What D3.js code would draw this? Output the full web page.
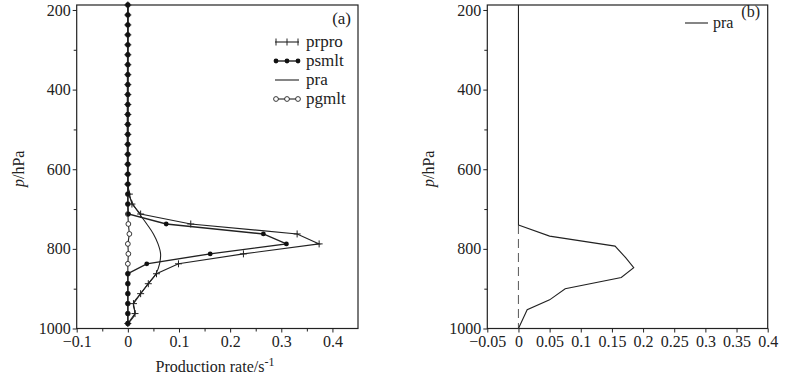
<!DOCTYPE html>
<html>
<head>
<meta charset="utf-8">
<script src="https://cdn.jsdelivr.net/npm/d3@7"></script>
<style>
  body { margin: 0; background: #fff; }
  svg { display: block; font-family: "Liberation Serif", "DejaVu Serif", serif; }
  .axis { font-family: "Liberation Serif", "DejaVu Serif", serif; }
  .axis text { font-size: 16px; fill: #222; }
  .axis path, .axis line { stroke: #222; }
</style>
</head>
<body>
<div id="chart"></div>
<script>
/* two vertical profile panels: (a) process rates, (b) pra */

const width = 799, height = 376;

// model levels (hPa)
const levels = [987.5, 962.5, 937.5, 912.5, 887.5, 862.5, 837.5, 812.5, 787.5, 762.5, 737.5, 712.5, 687.5,
  662.5, 637.5, 612.5, 587.5, 562.5, 537.5, 512.5, 487.5, 462.5, 437.5, 412.5, 387.5, 362.5, 337.5,
  312.5, 287.5, 262.5, 237.5, 212.5, 187.5];

// panel (a) series, same order as levels
const prpro = [0, 0.014, 0.011, 0.025, 0.040, 0.056, 0.099, 0.226, 0.374, 0.331, 0.123, 0.025, 0.008,
  0.003, 0, 0, 0, 0, 0, 0, 0, 0, 0, 0, 0, 0, 0, 0, 0, 0, 0, 0, 0];
const psmlt = [0, 0, 0, 0, 0, 0, 0.037, 0.161, 0.310, 0.265, 0.075, 0.001, 0,
  0, 0, 0, 0, 0, 0, 0, 0, 0, 0, 0, 0, 0, 0, 0, 0, 0, 0, 0, 0];
const pgmlt = [0, 0, 0, 0, 0, 0, 0, 0.001, 0, 0.003, 0.001, 0, 0,
  0, 0, 0, 0, 0, 0, 0, 0, 0, 0, 0, 0, 0, 0, 0, 0, 0, 0, 0, 0];
const praLevelsA = [987.5, 962.5, 937.5, 912.5, 887.5, 862.5, 837.5, 812.5, 787.5, 762.5, 737.5, 712.5, 687.5, 662.5, 637.5, 187.5];
const praA = [0, 0.014, 0.011, 0.025, 0.040, 0.055, 0.062, 0.064, 0.059, 0.050, 0.037, 0.023, 0.010, 0.002, 0, 0];

// panel (b) pra
const praLevelsB = [1000, 953, 928, 900, 872, 847, 822, 793, 768, 740];
const praB = [0, 0.014, 0.05, 0.075, 0.165, 0.185, 0.172, 0.155, 0.05, 0];

// ticks
const yTicks = [200, 400, 600, 800, 1000];
const yMinor = [300, 500, 700, 900];
const xTicksA = [-0.1, 0, 0.1, 0.2, 0.3, 0.4];
const xMinorA = [-0.05, 0.05, 0.15, 0.25, 0.35];
const xTicksB = [-0.05, 0, 0.05, 0.1, 0.15, 0.2, 0.25, 0.3, 0.35, 0.4];

const ink = "#222";

const svg = d3.select("#chart")
  .append("svg")
  .attr("width", width)
  .attr("height", height)
  .attr("viewBox", [0, 0, width, height]);

const plotTop = 5, plotBottom = 328.5;

let y = d3.scaleLinear().domain([187.5, 1000]).range([plotTop, plotBottom]);
let xa = d3.scaleLinear().domain([-0.1, 0.45]).range([76.7, 358]);
let xb = d3.scaleLinear().domain([-0.05, 0.4]).range([487.3, 767.7]);

const fmt = d => d === 0 ? "0" : (d < 0 ? "\u2212" : "") + Math.abs(d);

function frame(x) {
  const [x0, x1] = x.range();
  svg.append("rect")
    .attr("x", x0).attr("y", plotTop)
    .attr("width", x1 - x0).attr("height", plotBottom - plotTop)
    .attr("fill", "none").attr("stroke", ink).attr("stroke-width", 1.2);

  svg.append("g").attr("class", "axis")
    .attr("transform", `translate(${x0},0)`)
    .call(d3.axisLeft(y).tickValues(yTicks).tickFormat(d => d).tickSize(4).tickPadding(2).tickSizeOuter(0))
    .call(g => g.select(".domain").remove());
  svg.append("g").attr("class", "axis")
    .attr("transform", `translate(${x0},0)`)
    .call(d3.axisLeft(y).tickValues(yMinor).tickSize(3).tickFormat(""))
    .call(g => g.select(".domain").remove());

  svg.append("text")
    .attr("transform", `translate(${x0 - 53},${(plotTop + plotBottom) / 2 + 2}) rotate(-90)`)
    .attr("text-anchor", "middle")
    .style("font-size", "16px").attr("fill", ink)
    .html('<tspan font-style="italic">p</tspan>/hPa');
}

frame(xa);
frame(xb);

// x axes
svg.append("g").attr("class", "axis")
  .attr("transform", `translate(0,${plotBottom})`)
  .call(d3.axisBottom(xa).tickValues(xTicksA).tickFormat(fmt).tickSize(4).tickPadding(3))
  .call(g => g.select(".domain").remove());
svg.append("g").attr("class", "axis")
  .attr("transform", `translate(0,${plotBottom})`)
  .call(d3.axisBottom(xa).tickValues(xMinorA).tickFormat("").tickSize(3))
  .call(g => g.select(".domain").remove());
svg.append("g").attr("class", "axis")
  .attr("transform", `translate(0,${plotBottom})`)
  .call(d3.axisBottom(xb).tickValues(xTicksB).tickFormat(fmt).tickSize(4).tickPadding(3))
  .call(g => g.select(".domain").remove());

svg.append("text")
  .attr("x", 215).attr("y", 372)
  .attr("text-anchor", "middle")
  .style("font-size", "16px").attr("fill", ink)
  .html('Production rate/s<tspan dy="-6" font-size="12">-1</tspan>');

// panel (a) lines
const lineA = (vals, lv) => d3.line()
  .x((d, i) => xa(vals[i]))
  .y((d, i) => y(lv[i]))(lv);

const g = svg.append("g").attr("fill", "none").attr("stroke", ink).attr("stroke-width", 1.1);

// pgmlt
g.append("path").attr("d", lineA(pgmlt, levels));
svg.append("g").selectAll("circle")
  .data(levels)
  .join("circle")
  .attr("cx", (d, i) => xa(pgmlt[i]))
  .attr("cy", d => y(d))
  .attr("r", 2.4)
  .attr("fill", "#fff").attr("stroke", ink).attr("stroke-width", 0.9);

// pra (smooth)
const gp = svg.append("g").attr("fill", "none").attr("stroke", ink).attr("stroke-width", 1.1);
gp.append("path")
  .attr("d", d3.line()
    .curve(d3.curveCatmullRom)
    .x((d, i) => xa(praA[i]))
    .y(d => y(d))(praLevelsA));

// prpro
gp.append("path").attr("d", lineA(prpro, levels));
svg.append("g").selectAll("path")
  .data(levels)
  .join("path")
  .attr("d", (d, i) => {
    const cx = xa(prpro[i]), cy = y(d);
    return `M${cx - 3.5},${cy}H${cx + 3.5}M${cx},${cy - 3.5}V${cy + 3.5}`;
  })
  .attr("stroke", ink).attr("stroke-width", 1);

// psmlt
const gs = svg.append("g").attr("fill", "none").attr("stroke", ink).attr("stroke-width", 1.4);
gs.append("path").attr("d", lineA(psmlt, levels));
svg.append("g").selectAll("circle")
  .data(levels)
  .join("circle")
  .attr("cx", (d, i) => xa(psmlt[i]))
  .attr("cy", d => y(d))
  .attr("r", 2.4)
  .attr("fill", "#111");

// legend (a)
svg.append("text").attr("x", 351).attr("y", 24).attr("text-anchor", "end")
  .style("font-size", "17px").attr("fill", ink).text("(a)");

const legendNames = ["prpro", "psmlt", "pra", "pgmlt"];
const leg = svg.append("g").attr("transform", "translate(275,42)");
legendNames.forEach((name, i) => {
  const row = leg.append("g").attr("transform", `translate(0,${i * 19})`);
  row.append("line").attr("x1", 0).attr("x2", 24).attr("y1", 0).attr("y2", 0)
    .attr("stroke", ink).attr("stroke-width", name === "psmlt" ? 1.4 : 1.1);
  const pts = [1, 12, 23];
  if (name === "prpro") {
    pts.forEach(px => row.append("path").attr("d", `M${px},-3.5V3.5`).attr("stroke", ink));
  } else if (name === "psmlt") {
    pts.forEach(px => row.append("circle").attr("cx", px).attr("r", 2.4).attr("fill", "#111"));
  } else if (name === "pgmlt") {
    pts.forEach(px => row.append("circle").attr("cx", px).attr("r", 2.4)
      .attr("fill", "#fff").attr("stroke", ink).attr("stroke-width", 0.9));
  }
  row.append("text").attr("x", 31).attr("y", 5)
    .style("font-size", "17px").attr("fill", ink).text(name);
});

// panel (b)
const gb = svg.append("g").attr("fill", "none").attr("stroke", ink).attr("stroke-width", 1.1);
gb.append("path")
  .attr("d", d3.line()([[xb(0), y(187.5)], [xb(0), y(740)]]));
gb.append("path")
  .attr("d", d3.line()([[xb(0), y(740)], [xb(0), y(1000)]]))
  .attr("stroke", "#666").attr("stroke-dasharray", "9,5");
gb.append("path")
  .attr("d", d3.line()
    .x((d, i) => xb(praB[i]))
    .y(d => y(d))(praLevelsB));

svg.append("text").attr("x", 760).attr("y", 17).attr("text-anchor", "end")
  .style("font-size", "16px").attr("fill", ink).text("(b)");
svg.append("line").attr("x1", 685).attr("x2", 708).attr("y1", 23).attr("y2", 23)
  .attr("stroke", ink).attr("stroke-width", 1.1);
svg.append("text").attr("x", 713).attr("y", 28)
  .style("font-size", "16px").attr("fill", ink).text("pra");
</script>
</body>
</html>
